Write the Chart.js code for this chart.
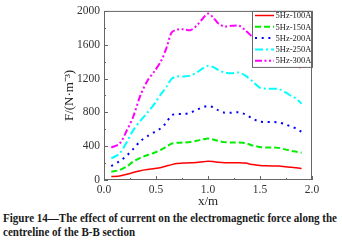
<!DOCTYPE html>
<html>
<head>
<meta charset="utf-8">
<script src="https://cdn.jsdelivr.net/npm/chart.js@4/dist/chart.umd.min.js"></script>
<style>
  html, body { margin: 0; padding: 0; background: #fff; }
  #wrap { position: relative; width: 342px; height: 244px; overflow: hidden; }
  #cv { position: absolute; left: 0; top: 0; }
  #cap { position: absolute; left: 3px; top: 212px; font-family: "Liberation Serif", "DejaVu Serif", serif;
         font-weight: bold; font-size: 12.5px; line-height: 13.5px; color: #1a1a1a; white-space: nowrap;
         transform-origin: 0 0; }
</style>
</head>
<body>
<div id="wrap">
  <canvas id="cv" width="342" height="210"></canvas>
  <div id="cap"><span id="cap1">Figure 14—The effect of current on the electromagnetic force along the</span><br><span>centreline of the B-B section</span></div>
</div>
<script>
// ---- data ----
const xPositions = [0.07, 0.15, 0.22, 0.28, 0.35, 0.42, 0.49, 0.55, 0.60, 0.65, 0.70, 0.76, 0.83, 0.89, 0.95, 1.00,
                    1.05, 1.10, 1.16, 1.23, 1.30, 1.36, 1.43, 1.50, 1.56, 1.62, 1.68, 1.74, 1.80, 1.85, 1.90];
const seriesLabels = ["5Hz-100A", "5Hz-150A", "5Hz-200A", "5Hz-250A", "5Hz-300A"];
const f100A = [40, 46, 68, 88, 110, 124, 135, 148, 165, 182, 196, 200, 204, 206, 215, 222,
               218, 210, 204, 204, 204, 200, 182, 172, 168, 166, 165, 158, 150, 145, 137];
const f150A = [98, 118, 160, 216, 262, 295, 325, 360, 395, 430, 440, 443, 450, 463, 480, 490,
               478, 462, 448, 443, 443, 435, 408, 390, 384, 384, 380, 362, 345, 335, 322];
const f200A = [165, 222, 290, 365, 460, 520, 570, 615, 680, 765, 780, 780, 795, 830, 860, 875,
               860, 824, 796, 796, 800, 775, 725, 690, 686, 686, 680, 660, 630, 608, 569];
const f250A = [255, 314, 450, 588, 700, 800, 910, 1020, 1100, 1196, 1224, 1224, 1235, 1270, 1320, 1350,
               1335, 1300, 1272, 1262, 1270, 1235, 1165, 1090, 1080, 1078, 1075, 1040, 995, 961, 902];
const f300A = [384, 430, 588, 745, 1000, 1180, 1294, 1410, 1560, 1745, 1778, 1784, 1772, 1824, 1910, 1969,
               1922, 1850, 1815, 1824, 1824, 1770, 1690, 1640, 1610, 1590, 1570, 1510, 1440, 1380, 1310];
const xTicks = [0.0, 0.5, 1.0, 1.5, 2.0];
const yTicks = [0, 400, 800, 1200, 1600, 2000];

const seriesValues = [f100A, f150A, f200A, f250A, f300A];
const styles = [
  { color: "#ff0000", dash: [], width: 1.5 },
  { color: "#00ee00", dash: [6, 3], width: 2 },
  { color: "#0000ff", dash: [2, 4.7], width: 2 },
  { color: "#00ffff", dash: [8, 3, 2, 3], width: 2 },
  { color: "#ff00ff", dash: [7, 2.5, 2, 2.5, 2, 2.5], width: 2 }
];

const datasets = seriesValues.map((vals, i) => ({
  label: seriesLabels[i],
  data: vals.map((v, j) => ({ x: xPositions[j], y: v })),
  borderColor: styles[i].color,
  borderDash: styles[i].dash,
  borderWidth: styles[i].width,
  pointRadius: 0,
  tension: 0.3,
  fill: false
}));

const serif = '"Liberation Serif", "Times New Roman", serif';
const frameColor = "#666";

const framePlugin = {
  id: "frameAndLegend",
  afterDraw(chart) {
    const ctx = chart.ctx;
    const a = chart.chartArea;
    const xs = chart.scales.x, ys = chart.scales.y;
    ctx.save();
    ctx.setLineDash([]);
    ctx.strokeStyle = frameColor;
    ctx.lineWidth = 1;
    // inward ticks
    ctx.beginPath();
    for (let v = 0; v <= 2.0001; v += 0.25) {
      const px = Math.round(xs.getPixelForValue(v)) + 0.5;
      const major = Math.abs(v * 2 - Math.round(v * 2)) < 1e-6;
      ctx.moveTo(px, a.bottom);
      ctx.lineTo(px, a.bottom - (major ? 4 : 2));
    }
    for (let v = 0; v <= 2000; v += 200) {
      const py = Math.round(ys.getPixelForValue(v)) + 0.5;
      const major = v % 400 === 0;
      ctx.moveTo(a.left, py);
      ctx.lineTo(a.left + (major ? 4 : 2), py);
    }
    ctx.stroke();
    // legend
    const lx = 252.5, ly = a.top + 0.5, lw = a.right - 252, lh = 56;
    ctx.fillStyle = "#fff";
    ctx.fillRect(lx, ly, lw, lh);
    ctx.strokeStyle = frameColor;
    ctx.strokeRect(lx, ly, lw, lh);
    ctx.font = "8.5px " + serif;
    ctx.textBaseline = "middle";
    ctx.textAlign = "left";
    chart.data.datasets.forEach((ds, i) => {
      const cy = 15.5 + i * 11.3;
      ctx.beginPath();
      ctx.strokeStyle = ds.borderColor;
      ctx.lineWidth = ds.borderWidth;
      ctx.setLineDash(ds.borderDash);
      ctx.moveTo(255, cy);
      ctx.lineTo(274, cy);
      ctx.stroke();
      ctx.setLineDash([]);
      ctx.fillStyle = "#222";
      ctx.fillText(ds.label, 275.5, cy + 0.5);
    });
    // frame
    ctx.strokeStyle = frameColor;
    ctx.lineWidth = 1;
    ctx.strokeRect(a.left + 0.5, a.top + 0.5, a.right - a.left - 1, a.bottom - a.top - 1);
    ctx.restore();
  }
};

new Chart(document.getElementById("cv"), {
  type: "line",
  data: { datasets },
  options: {
    responsive: false,
    devicePixelRatio: 1,
    animation: false,
    layout: { padding: { left: 0, top: 10, right: 30, bottom: 0 } },
    plugins: { legend: { display: false }, tooltip: { enabled: false } },
    scales: {
      x: {
        type: "linear", min: 0, max: 2,
        afterBuildTicks: s => { s.ticks = xTicks.map(v => ({ value: v })); },
        afterFit: s => { s.height = 30; },
        grid: { display: false, drawTicks: false },
        border: { display: false },
        ticks: { font: { family: serif, size: 11.5 }, color: "#333", padding: 3, maxRotation: 0,
                 callback: v => Number(v).toFixed(1) },
        title: { display: true, text: "x/m", font: { family: serif, size: 13 }, color: "#222",
                 padding: { top: 0, bottom: 1 } }
      },
      y: {
        type: "linear", min: 0, max: 2000,
        afterBuildTicks: s => { s.ticks = yTicks.map(v => ({ value: v })); },
        afterFit: s => { s.width = 104; },
        grid: { display: false, drawTicks: false },
        border: { display: false },
        ticks: { font: { family: serif, size: 11.5 }, color: "#333", padding: 4,
                 callback: v => String(v) },
        title: { display: true, text: "F/(N·m⁻³)", font: { family: serif, size: 13 }, color: "#222",
                 padding: { top: 62, bottom: 0 } }
      }
    }
  },
  plugins: [framePlugin]
});

// fit caption width to the reference line length
const cap = document.getElementById("cap");
const w = document.getElementById("cap1").getBoundingClientRect().width;
cap.style.transform = "scaleX(" + (334 / w) + ")";
</script>
</body>
</html>
